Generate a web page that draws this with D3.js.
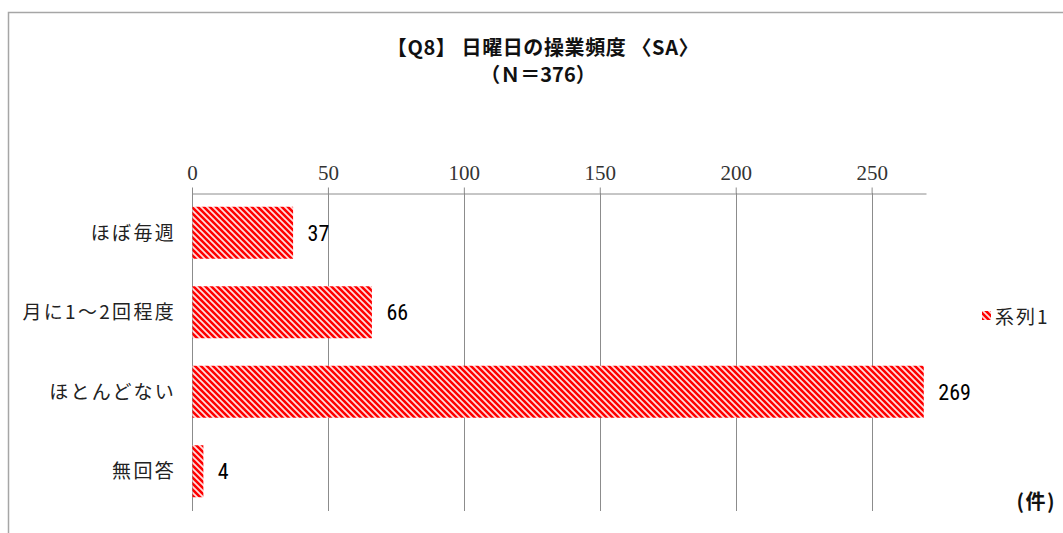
<!DOCTYPE html>
<html><head><meta charset="utf-8">
<script src="https://cdn.jsdelivr.net/npm/d3@7/dist/d3.min.js"></script>
<style>body{margin:0;background:#fff}svg{display:block}</style>
</head><body>
<script>
const categories = ["ほぼ毎週", "月に1～2回程度", "ほとんどない", "無回答"];
const values = [37, 66, 269, 4];
const tickValues = [0, 50, 100, 150, 200, 250];
const seriesName = "系列1";
const title1 = "【Q8】 日曜日の操業頻度 〈SA〉";
const title2 = "（Ｎ＝376）";
const unitLabel = "(件)";

(function () {
const W = 1063, H = 533;
const svg = d3.select("body").append("svg").attr("width", W).attr("height", H);

const defs = svg.append("defs");
const pat = defs.append("pattern").attr("id", "stripe").attr("patternUnits", "userSpaceOnUse")
  .attr("width", 6).attr("height", 6);
pat.append("rect").attr("width", 6).attr("height", 6).attr("fill", "#ff0000");
pat.append("path").attr("d", "M-1,-1 L7,7 M-1,5 L1,7 M5,-1 L7,1")
  .attr("stroke", "#ffdede").attr("stroke-width", 1.7);

// frame
svg.append("path").attr("d", `M8.5,${H} L8.5,12.5 L${W},12.5`).attr("fill", "none")
  .attr("stroke", "#a6a6a6").attr("stroke-width", 1.5);

const pLeft = 192, pRight = 926, pTop = 193, pBottom = 511;
const x = d3.scaleLinear().domain([0, 270]).range([pLeft, pRight]);
const y = d3.scaleBand().domain(categories).range([pTop, pBottom]).paddingInner(0.346).paddingOuter(0.173);

// gridlines
svg.append("g").selectAll("line").data(tickValues).join("line")
  .attr("x1", d => Math.round(x(d)) + 0.5).attr("x2", d => Math.round(x(d)) + 0.5)
  .attr("y1", pTop).attr("y2", pBottom).attr("stroke", "#8c8c8c").attr("stroke-width", 1);

// top axis
const ax = svg.append("g").attr("transform", `translate(0,${pTop + 0.5})`)
  .call(d3.axisTop(x).tickValues(tickValues).tickSize(6).tickPadding(8).tickSizeOuter(0));
ax.select(".domain").attr("stroke", "#8c8c8c");
ax.selectAll(".tick line").attr("stroke", "#8c8c8c");
ax.selectAll(".tick text").attr("font-family", "'Liberation Serif', serif").attr("font-size", 21).attr("fill", "#333");

// bars
svg.append("g").selectAll("rect").data(values).join("rect")
  .attr("x", x(0) + 0.5).attr("y", (d, i) => y(categories[i]))
  .attr("width", d => x(d) - x(0)).attr("height", y.bandwidth())
  .attr("fill", "url(#stripe)");

// value labels
svg.append("g").selectAll("text").data(values).join("text")
  .attr("x", d => x(d) + 15).attr("y", (d, i) => y(categories[i]) + y.bandwidth() / 2 + 8)
  .attr("font-family", "'Liberation Sans Narrow', 'Roboto Condensed', sans-serif")
  .attr("font-size", 22).attr("fill", "#000").text(d => d);

// category labels
svg.append("g").selectAll("text").data(categories).join("text")
  .attr("x", 176).attr("y", d => y(d) + y.bandwidth() / 2 + 7)
  .attr("text-anchor", "end").attr("font-family", "'Noto Sans CJK JP', sans-serif")
  .attr("font-size", 19).attr("letter-spacing", 2.3).attr("fill", "#222").text(d => d);

// title
svg.append("text").attr("x", 543).attr("y", 55).attr("text-anchor", "middle")
  .attr("font-family", "'Noto Sans CJK JP', sans-serif").attr("font-weight", "bold")
  .attr("font-size", 20).attr("letter-spacing", 0.6).attr("fill", "#111").attr("xml:space", "preserve").text(title1);
svg.append("text").attr("x", 538).attr("y", 82).attr("text-anchor", "middle")
  .attr("font-family", "'Noto Sans CJK JP', sans-serif").attr("font-weight", "bold")
  .attr("font-size", 20).attr("fill", "#111").text(title2);

// legend
svg.append("rect").attr("x", 982).attr("y", 311).attr("width", 9).attr("height", 9).attr("fill", "url(#stripe)");
svg.append("text").attr("x", 995).attr("y", 324).attr("font-family", "'Noto Sans CJK JP', sans-serif")
  .attr("font-size", 19).attr("letter-spacing", 2).attr("fill", "#222").text(seriesName);

// unit
svg.append("text").attr("x", 1056).attr("y", 509).attr("text-anchor", "end")
  .attr("font-family", "'Noto Sans CJK JP', sans-serif").attr("font-weight", "bold")
  .attr("font-size", 20).attr("letter-spacing", 1.5).attr("fill", "#111").text(unitLabel);
})();
</script>
</body></html>
